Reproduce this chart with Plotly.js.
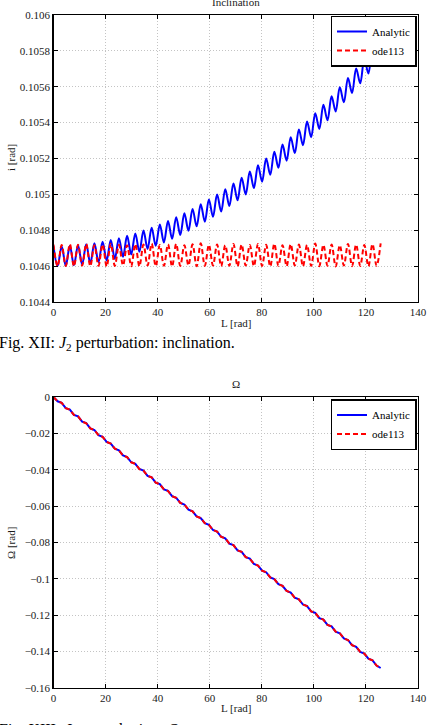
<!DOCTYPE html>
<html>
<head>
<meta charset="utf-8">
<script src="https://cdn.plot.ly/plotly-3.0.1.min.js"></script>
<style>
  html, body { margin: 0; padding: 0; background: #fff; overflow: hidden; }
  #chart { width: 429px; height: 725px; }
</style>
</head>
<body>
<div id="chart"></div>
<script>
// Mean longitude samples (every half short-period swing), rad
const L = [0, 1.57, 3.14, 4.71, 6.28, 7.85, 9.42, 11.00, 12.57, 14.14,
  15.71, 17.28, 18.85, 20.42, 21.99, 23.56, 25.13, 26.70, 28.27, 29.85,
  31.42, 32.99, 34.56, 36.13, 37.70, 39.27, 40.84, 42.41, 43.98, 45.55,
  47.12, 48.69, 50.27, 51.84, 53.41, 54.98, 56.55, 58.12, 59.69, 61.26,
  62.83, 64.40, 65.97, 67.54, 69.12, 70.69, 72.26, 73.83, 75.40, 76.97,
  78.54, 80.11, 81.68, 83.25, 84.82, 86.39, 87.96, 89.54, 91.11, 92.68,
  94.25, 95.82, 97.39, 98.96, 100.53, 102.10, 103.67, 105.24, 106.81, 108.38,
  109.96, 111.53, 113.10, 114.67, 116.24, 117.81, 119.38, 120.95, 122.52, 124.09,
  125.66];

// Inclination, analytic J2 solution [rad]
const incAnalytic = [0.104710, 0.104600, 0.104711, 0.104602, 0.104713, 0.104605, 0.104717, 0.104609, 0.104722, 0.104615,
  0.104728, 0.104622, 0.104736, 0.104631, 0.104746, 0.104641, 0.104756, 0.104652, 0.104769, 0.104665,
  0.104782, 0.104680, 0.104798, 0.104696, 0.104814, 0.104713, 0.104832, 0.104732, 0.104852, 0.104752,
  0.104873, 0.104774, 0.104895, 0.104797, 0.104919, 0.104822, 0.104945, 0.104848, 0.104972, 0.104875,
  0.105000, 0.104904, 0.105029, 0.104935, 0.105061, 0.104967, 0.105093, 0.105000, 0.105127, 0.105035,
  0.105163, 0.105071, 0.105200, 0.105109, 0.105238, 0.105148, 0.105278, 0.105188, 0.105319, 0.105230,
  0.105362, 0.105274, 0.105406, 0.105319, 0.105452, 0.105365, 0.105499, 0.105413, 0.105547, 0.105462,
  0.105597, 0.105513, 0.105649, 0.105565, 0.105702, 0.105619, 0.105756, 0.105674, 0.105812, 0.105730,
  0.105869];

// Inclination, numerical integration (ode113) [rad]
const incOde = [0.104720, 0.104600, 0.104718, 0.104601, 0.104722, 0.104599, 0.104719, 0.104603, 0.104724, 0.104600,
  0.104717, 0.104602, 0.104721, 0.104598, 0.104725, 0.104601, 0.104719, 0.104604, 0.104716, 0.104600,
  0.104723, 0.104599, 0.104720, 0.104603, 0.104726, 0.104600, 0.104718, 0.104602, 0.104721, 0.104598,
  0.104724, 0.104601, 0.104717, 0.104604, 0.104722, 0.104599, 0.104727, 0.104601, 0.104719, 0.104603,
  0.104721, 0.104600, 0.104716, 0.104602, 0.104724, 0.104599, 0.104720, 0.104603, 0.104718, 0.104600,
  0.104723, 0.104601, 0.104719, 0.104598, 0.104725, 0.104602, 0.104717, 0.104600, 0.104722, 0.104603,
  0.104720, 0.104599, 0.104718, 0.104601, 0.104726, 0.104600, 0.104719, 0.104602, 0.104721, 0.104598,
  0.104717, 0.104603, 0.104724, 0.104600, 0.104720, 0.104601, 0.104718, 0.104599, 0.104723, 0.104602,
  0.104727];

// Right ascension of the ascending node, analytic [rad]
const raanAnalytic = [0, -0.00236, -0.00323, -0.00609, -0.00695, -0.00981, -0.01068, -0.01354, -0.01440, -0.01726,
  -0.01813, -0.02099, -0.02185, -0.02471, -0.02558, -0.02844, -0.02930, -0.03216, -0.03303, -0.03589,
  -0.03675, -0.03961, -0.04048, -0.04334, -0.04420, -0.04706, -0.04793, -0.05079, -0.05165, -0.05451,
  -0.05538, -0.05824, -0.05910, -0.06196, -0.06283, -0.06569, -0.06655, -0.06941, -0.07028, -0.07314,
  -0.07400, -0.07686, -0.07773, -0.08059, -0.08145, -0.08431, -0.08518, -0.08804, -0.08890, -0.09176,
  -0.09263, -0.09549, -0.09635, -0.09921, -0.10008, -0.10294, -0.10380, -0.10666, -0.10753, -0.11039,
  -0.11125, -0.11411, -0.11498, -0.11784, -0.11870, -0.12156, -0.12243, -0.12529, -0.12615, -0.12901,
  -0.12988, -0.13274, -0.13360, -0.13646, -0.13733, -0.14019, -0.14105, -0.14391, -0.14478, -0.14764,
  -0.14900];

// Right ascension of the ascending node, ode113 [rad]
const raanOde = [0, -0.00237, -0.00324, -0.00610, -0.00696, -0.00982, -0.01069, -0.01355, -0.01441, -0.01727,
  -0.01814, -0.02100, -0.02186, -0.02472, -0.02559, -0.02845, -0.02931, -0.03217, -0.03304, -0.03590,
  -0.03676, -0.03962, -0.04049, -0.04335, -0.04421, -0.04707, -0.04794, -0.05080, -0.05166, -0.05452,
  -0.05539, -0.05825, -0.05911, -0.06197, -0.06284, -0.06570, -0.06656, -0.06942, -0.07029, -0.07315,
  -0.07401, -0.07687, -0.07774, -0.08060, -0.08146, -0.08432, -0.08519, -0.08805, -0.08891, -0.09177,
  -0.09264, -0.09550, -0.09636, -0.09922, -0.10009, -0.10295, -0.10381, -0.10667, -0.10754, -0.11040,
  -0.11126, -0.11412, -0.11499, -0.11785, -0.11871, -0.12157, -0.12244, -0.12530, -0.12616, -0.12902,
  -0.12989, -0.13275, -0.13361, -0.13647, -0.13734, -0.14020, -0.14106, -0.14392, -0.14479, -0.14765,
  -0.14920];

const seriesNames = ['Analytic', 'ode113'];

// Tick labels
const xTicks = [0, 20, 40, 60, 80, 100, 120, 140];
const incTickVals = [0.1044, 0.1046, 0.1048, 0.105, 0.1052, 0.1054, 0.1056, 0.1058, 0.106];
const incTickText = ['0.1044', '0.1046', '0.1048', '0.105', '0.1052', '0.1054', '0.1056', '0.1058', '0.106'];
const raanTickVals = [-0.16, -0.14, -0.12, -0.1, -0.08, -0.06, -0.04, -0.02, 0];
const raanTickText = ['\u22120.16', '\u22120.14', '\u22120.12', '\u22120.1', '\u22120.08', '\u22120.06', '\u22120.04', '\u22120.02', '0'];

// ---- layout helpers (pixel -> paper fractions) ----
const W = 429, H = 725;
const px = x => x / W;
const py = y => 1 - y / H;
const serif = 'Liberation Serif, Times New Roman, serif';

function axis(extra) {
  return Object.assign({
    showline: true, linecolor: '#000', linewidth: 1.2, mirror: 'ticks',
    ticks: 'inside', ticklen: 4, tickcolor: '#000', tickwidth: 1,
    showgrid: true, gridcolor: '#c4c4c4', griddash: '1px,2px', gridwidth: 1,
    zeroline: false, fixedrange: true,
    tickfont: { family: serif, size: 11, color: '#1a1a1a' }
  }, extra);
}

const blueLine = { color: '#0000ff', width: 2, shape: 'spline', smoothing: 1 };
const redLine = { color: '#ff0000', width: 2, dash: '5px,3px', shape: 'spline', smoothing: 1 };
const redLineStraight = { color: '#ff0000', width: 2, dash: '5px,3px' };
const blueLineStraight = { color: '#0000ff', width: 2 };

const traces = [
  { x: L, y: incAnalytic, name: seriesNames[0], mode: 'lines', line: blueLine, xaxis: 'x', yaxis: 'y', legend: 'legend' },
  { x: L, y: incOde, name: seriesNames[1], mode: 'lines', line: redLine, xaxis: 'x', yaxis: 'y', legend: 'legend' },
  { x: L, y: raanAnalytic, name: seriesNames[0], mode: 'lines', line: blueLineStraight, xaxis: 'x2', yaxis: 'y2', legend: 'legend2' },
  { x: L, y: raanOde, name: seriesNames[1], mode: 'lines', line: redLineStraight, xaxis: 'x2', yaxis: 'y2', legend: 'legend2' }
];

const legendStyle = {
  xanchor: 'right', yanchor: 'top', bgcolor: '#fff', bordercolor: '#000', borderwidth: 1.5,
  font: { family: serif, size: 11, color: '#000' }, tracegroupgap: 0, itemwidth: 30
};

const textFont = { family: serif, size: 11, color: '#1a1a1a' };
const capFont = { family: serif, size: 16, color: '#000' };

const layout = {
  width: W, height: H,
  margin: { l: 0, r: 0, t: 0, b: 0 },
  paper_bgcolor: '#fff', plot_bgcolor: '#fff',
  font: { family: serif, color: '#1a1a1a' },
  showlegend: true,
  xaxis: axis({ domain: [px(53.5), px(418)], range: [0, 140], tickvals: xTicks, anchor: 'y' }),
  yaxis: axis({ domain: [py(302), py(15)], range: [0.1044, 0.106], tickvals: incTickVals, ticktext: incTickText, anchor: 'x' }),
  xaxis2: axis({ domain: [px(53.5), px(418)], range: [0, 140], tickvals: xTicks, anchor: 'y2' }),
  yaxis2: axis({ domain: [py(688), py(397)], range: [-0.16, 0], tickvals: raanTickVals, ticktext: raanTickText, anchor: 'x2' }),
  legend: Object.assign({ x: px(416.5), y: py(15.5) }, legendStyle),
  legend2: Object.assign({ x: px(416.5), y: py(399) }, legendStyle),
  annotations: [
    { text: 'Inclination', x: px(236), y: py(2), xref: 'paper', yref: 'paper', xanchor: 'center', yanchor: 'middle', showarrow: false, font: textFont },
    { text: 'L [rad]', x: px(236), y: py(323), xref: 'paper', yref: 'paper', xanchor: 'center', yanchor: 'middle', showarrow: false, font: textFont },
    { text: 'i [rad]', x: px(11), y: py(158), xref: 'paper', yref: 'paper', xanchor: 'center', yanchor: 'middle', textangle: -90, showarrow: false, font: textFont },
    { text: 'Fig. XII: <i>J</i><sub>2</sub> perturbation: inclination.', x: px(-3), y: py(343), xref: 'paper', yref: 'paper', xanchor: 'left', yanchor: 'middle', showarrow: false, font: capFont },
    { text: '\u03a9', x: px(236), y: py(384), xref: 'paper', yref: 'paper', xanchor: 'center', yanchor: 'middle', showarrow: false, font: textFont },
    { text: 'L [rad]', x: px(236), y: py(708), xref: 'paper', yref: 'paper', xanchor: 'center', yanchor: 'middle', showarrow: false, font: textFont },
    { text: '\u03a9 [rad]', x: px(11), y: py(543), xref: 'paper', yref: 'paper', xanchor: 'center', yanchor: 'middle', textangle: -90, showarrow: false, font: textFont },
    { text: 'Fig. XIII: <i>J</i><sub>2</sub> perturbation: <i>\u03a9</i>.', x: px(-3), y: py(730), xref: 'paper', yref: 'paper', xanchor: 'left', yanchor: 'middle', showarrow: false, font: capFont }
  ]
};

Plotly.newPlot('chart', traces, layout, { staticPlot: true, displayModeBar: false });
</script>
</body>
</html>
